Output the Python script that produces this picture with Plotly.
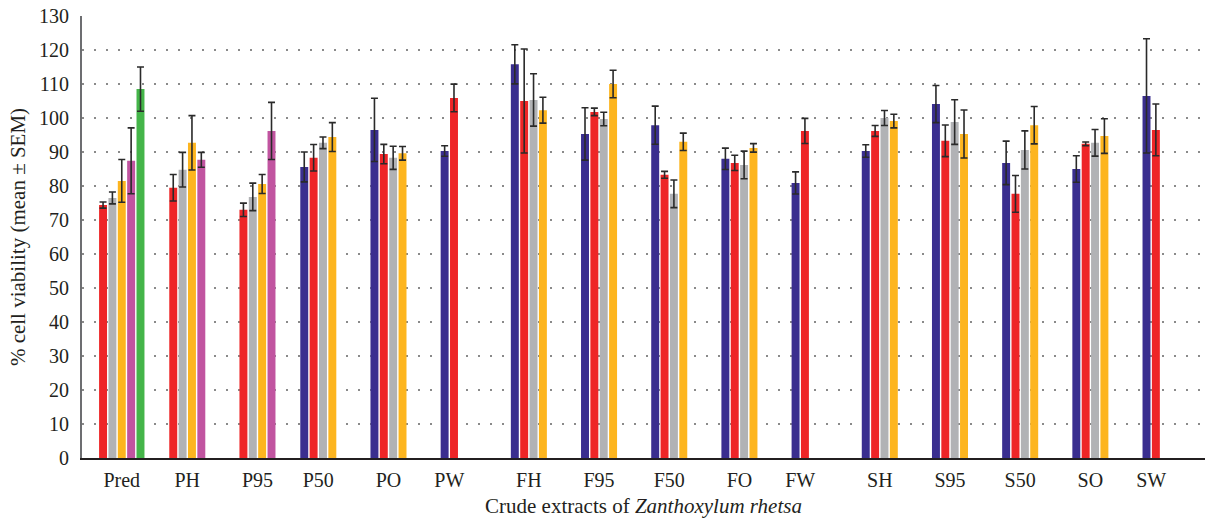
import plotly.graph_objects as go

categories = ["Pred", "PH", "P95", "P50", "PO", "PW", "FH", "F95", "F50", "FO",
              "FW", "SH", "S95", "S50", "SO", "SW"]

navy = [None, None, None, 85.6, 96.5, 90.3, 115.8, 95.3, 97.9, 88.0, 80.9, 90.3, 104.1, 86.8, 85.0, 106.5]
navy_err = [None, None, None, 4.4, 9.3, 1.55, 5.75, 7.7, 5.6, 3.15, 3.25, 1.85, 5.45, 6.4, 3.9, 16.8]

red = [74.4, 79.5, 73.0, 88.3, 89.4, 105.9, 105.0, 101.8, 83.3, 86.8, 96.2, 96.2, 93.3, 77.7, 92.4, 96.5]
red_err = [0.9, 3.9, 1.95, 3.9, 2.85, 4.05, 15.3, 1.1, 1.0, 2.25, 3.7, 1.6, 4.65, 5.4, 0.55, 7.6]

gray = [76.5, 84.8, 76.8, 92.7, 88.3, None, 105.3, 99.7, 77.7, 86.2, None, 100.0, 98.8, 90.6, 92.7, None]
gray_err = [1.75, 5.1, 4.05, 1.7, 3.4, None, 7.7, 2.0, 4.05, 4.05, None, 2.2, 6.55, 5.6, 3.9, None]

orange = [81.5, 92.7, 80.6, 94.4, 89.6, None, 102.3, 110.0, 93.0, 91.2, None, 99.1, 95.3, 97.9, 94.7, None]
orange_err = [6.3, 8.0, 2.8, 4.25, 2.0, None, 3.8, 4.05, 2.55, 1.25, None, 2.0, 7.05, 5.5, 5.1, None]

purple = [87.4, 87.7, 96.2] + [None] * 13
purple_err = [9.7, 2.2, 8.4] + [None] * 13

green = [108.5] + [None] * 15
green_err = [6.5] + [None] * 15

series = [
    (navy, navy_err, "#3a2e8f"),
    (red, red_err, "#ee2527"),
    (gray, gray_err, "#b1b2b5"),
    (orange, orange_err, "#fdb51f"),
    (purple, purple_err, "#c154a0"),
    (green, green_err, "#44b549"),
]

BARGAP = 0.2
n = len(series)
slot = (1 - BARGAP) / n
x = list(range(len(categories)))

fig = go.Figure()
for vals, errs, color in series:
    fig.add_trace(go.Bar(
        x=x, y=vals,
        marker=dict(color=color, line=dict(width=0)),
        error_y=dict(type="data", array=[e if e is not None else 0 for e in errs],
                     visible=True, color="#2a2a2a", thickness=1.6, width=3.5),
        showlegend=False,
    ))

# tick labels centred on the bars present in each group
tickvals = []
for i in range(len(categories)):
    offs = [-(1 - BARGAP) / 2 + slot * (k + 0.5)
            for k, (vals, _, _) in enumerate(series) if vals[i] is not None]
    tickvals.append(i + sum(offs) / len(offs))

font_family = "Liberation Serif"

fig.update_layout(
    width=1208, height=522,
    margin=dict(l=82, r=3, t=16, b=64),
    barmode="group", bargap=BARGAP, bargroupgap=0.15,
    plot_bgcolor="white", paper_bgcolor="white",
    font=dict(family=font_family, color="#231f20", size=20),
)
fig.update_xaxes(
    range=[-0.5, len(categories) - 0.5],
    tickvals=tickvals, ticktext=categories,
    showgrid=False, zeroline=False,
    showline=True, linecolor="#231f20", linewidth=2,
    ticks="outside", ticklen=3, tickcolor="rgba(0,0,0,0)",
    tickfont=dict(size=20),
    title=dict(text="Crude extracts of <i>Zanthoxylum rhetsa</i>",
               font=dict(size=21), standoff=8),
    automargin=False,
)
fig.update_yaxes(
    range=[0, 130], dtick=10,
    showgrid=True, gridcolor="#8a8a8a", gridwidth=2, griddash="2px,10px",
    zeroline=False,
    showline=True, linecolor="#6d6e71", linewidth=2,
    ticks="outside", ticklen=7, tickcolor="rgba(0,0,0,0)",
    tickfont=dict(size=20),
    title=dict(text="% cell viability (mean ± SEM)", font=dict(size=21), standoff=8),
    automargin=False,
)

fig.write_html("out.html", config={"displayModeBar": False},
               post_script="document.body.style.margin='0';document.body.style.padding='0';")
